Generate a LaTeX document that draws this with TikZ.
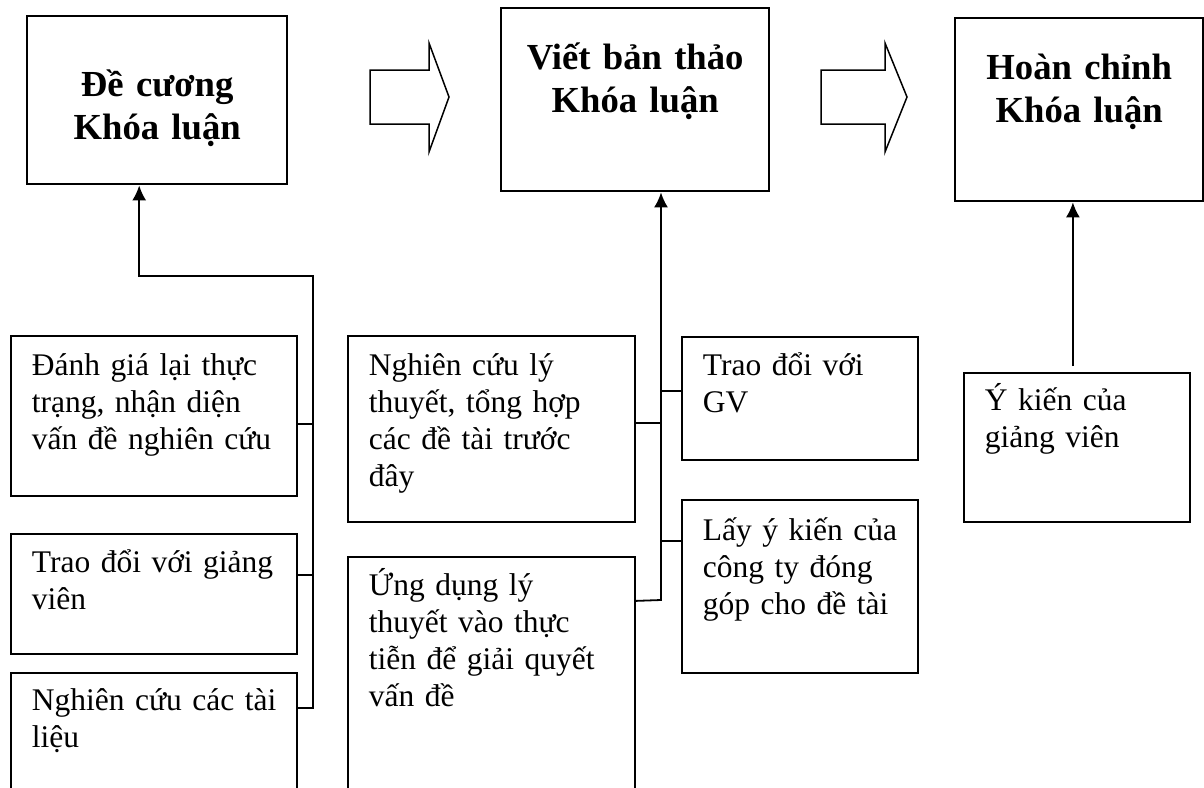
\documentclass[tikz,border=0pt]{standalone}
\usepackage{fontspec}
\setmainfont{Liberation Serif}
\usetikzlibrary{arrows.meta}

\begin{document}
\begin{tikzpicture}[x=1pt, y=-1pt,
		titlebox/.style n args={3}{draw, line width=2.4pt, anchor=north west, align=center, inner xsep=5pt, inner ysep=0pt, text width=#1, text height=#2, text depth=#3, font=\fontsize{36.7}{43}\selectfont\bfseries},
		taskbox/.style n args={3}{draw, line width=1.8pt, anchor=north west, align=left, inner xsep=0pt, inner ysep=0pt, text width=#1, text height=#2, text depth=#3, execute at begin node={\leftskip=21pt}, font=\fontsize{31.5}{36.7}\selectfont},
		link/.style={line width=1.8pt},
		tip/.style={-{Latex[length=15pt, width=14pt]}},
		bigarrow/.style={line width=1.5pt, line join=miter}]
		\useasboundingbox (0,0) rectangle (1204,787);
		\clip (0,0) rectangle (1204,787);
		
		\node[titlebox={250pt}{80pt}{88pt}] (outline) at (26,15) {Đề cương\\Khóa luận};
		\node[titlebox={258pt}{61pt}{122pt}] (draft) at (500,7) {Viết bản thảo\\Khóa luận};
		\node[titlebox={238pt}{61pt}{122pt}] (final) at (954,17) {Hoàn chỉnh\\Khóa luận};
		
		\node[taskbox={286pt}{40pt}{120pt}] (survey) at (10,335) {Đánh giá lại thực\\trạng, nhận diện\\vấn đề nghiên cứu};
		\node[taskbox={286pt}{39pt}{81pt}] (consult) at (10,533) {Trao đổi với giảng\\viên};
		\node[taskbox={286pt}{38pt}{92pt}] (lit) at (10,672) {Nghiên cứu các tài\\liệu};
		
		\node[taskbox={287pt}{40pt}{146pt}] (theory) at (347,335) {Nghiên cứu lý\\thuyết, tổng hợp\\các đề tài trước\\đây};
		\node[taskbox={287pt}{39pt}{211pt}] (apply) at (347,556) {Ứng dụng lý\\thuyết vào thực\\tiễn để giải quyết\\vấn đề};
		\node[taskbox={236pt}{39pt}{84pt}] (gv) at (681,336) {Trao đổi với\\GV};
		\node[taskbox={236pt}{41pt}{132pt}] (company) at (681,499) {Lấy ý kiến của\\công ty đóng\\góp cho đề tài};
		
		\node[taskbox={226pt}{38pt}{111pt}] (opinion) at (963,372) {Ý kiến của\\giảng viên};
		
		\foreach \xa/\xb/\xc in {370/429/449, 821/885/907} {
			\draw[bigarrow] (\xa,70) -- (\xb,70) -- (\xb,43) -- (\xc,97) -- (\xb,152) -- (\xb,124) -- (\xa,124) -- cycle;
		}
		
		\coordinate (bus1) at (313,276);
		\coordinate (bus2) at (661,600);
		
		\draw[link, tip] ([yshift=30pt]lit.east) -| (bus1) -| ([xshift=-18pt]outline.south);
		\draw[link] ([yshift=-8pt]survey.east) -- ([yshift=-8pt]survey.east -| bus1);
		\draw[link] ([yshift=19pt]consult.east) -- ([yshift=19pt]consult.east -| bus1);
		
		\draw[link, tip] ([yshift=81pt]apply.east) -- (bus2) -- (bus2 |- draft.south);
		\draw[link] ([yshift=6pt]theory.east) -- ([yshift=6pt]theory.east -| bus2);
		\draw[link] ([yshift=7.5pt]gv.west) -- ([yshift=7.5pt]gv.west -| bus2);
		\draw[link] ([yshift=45.5pt]company.west) -- ([yshift=45.5pt]company.west -| bus2);
		
		\draw[link, tip, shorten <=6pt] ([xshift=-4pt]opinion.north) -- ([xshift=-4pt]opinion.north |- final.south);
	\end{tikzpicture}
\end{document}
